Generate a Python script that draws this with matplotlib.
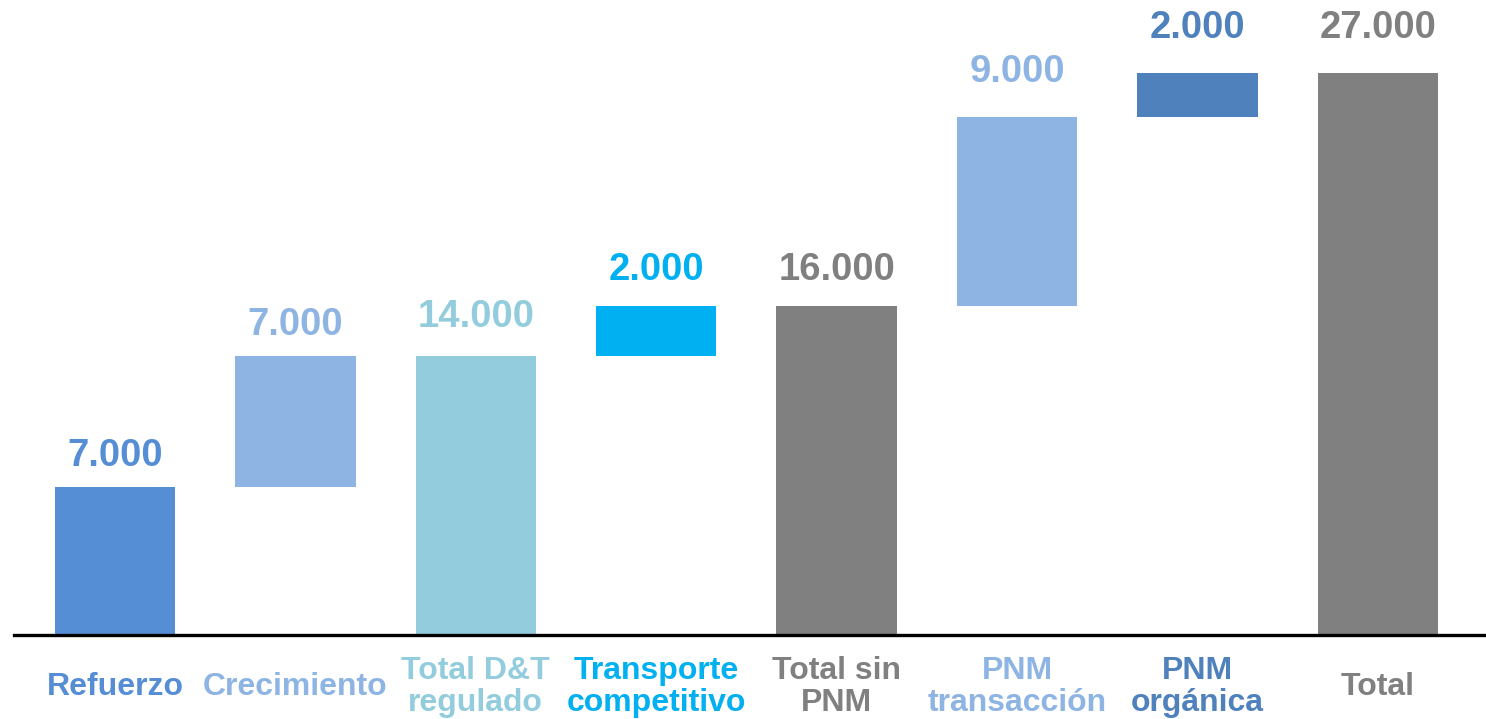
import numpy as np
import matplotlib.pyplot as plt

# --- Daten ------------------------------------------------------------------
categories = ["Refuerzo", "Crecimiento", "Total D&T\nregulado", "Transporte\ncompetitivo",
              "Total sin\nPNM", "PNM\ntransacción", "PNM\norgánica", "Total"]
values = [7100, 6300, 13400, 2400, 15800, 9100, 2100, 27000]
is_total = [False, False, True, False, True, False, False, True]
value_labels = ["7.000", "7.000", "14.000", "2.000", "16.000", "9.000", "2.000", "27.000"]

colors = ["#558ED5", "#8EB4E3", "#93CDDD", "#00B0F0",
          "#808080", "#8EB4E3", "#4F81BD", "#808080"]
label_pad = [31, 31, 39, 36, 36, 45, 45, 45]  # Abstand Wertlabel -> Balken (px)

# --- Wasserfall-Basis berechnen ---------------------------------------------
bottoms = []
running = 0
for v, tot in zip(values, is_total):
    if tot:
        bottoms.append(0)
        running = v
    else:
        bottoms.append(running)
        running += v

x = np.arange(len(categories))

# -- Plot ----------------------------------------------------------------------
plt.rcParams["font.family"] = ["Liberation Sans", "DejaVu Sans"]
fig = plt.figure(figsize=(14.86, 7.19), dpi=100)
ax = fig.add_axes([14 / 1486, 84 / 719, 1 - 14 / 1486, 1 - 84 / 719])

ax.bar(x, values, bottom=bottoms, width=0.667, color=colors, linewidth=0)

for xi, v, b, lab, c, pad in zip(x, values, bottoms, value_labels, colors, label_pad):
    ax.annotate(lab, (xi, b + v), xytext=(0, pad), textcoords="offset pixels",
                ha="center", va="center", fontsize=27.5, fontweight="bold", color=c)

for xi, cat, c in zip(x, categories, colors):
    ax.annotate(cat, (xi, 0), xytext=(0, -52), textcoords="offset pixels",
                ha="center", va="center", fontsize=23, fontweight="bold",
                color=c, linespacing=1.05, annotation_clip=False)

# Nulllinie (nicht am Achsenrand abschneiden)
ax.axhline(0, color="black", lw=2.4, clip_on=False)

# Achsen & Layout
ax.set_xlim(-0.56, 7.6)
ax.set_ylim(0, 30500)
ax.axis("off")

fig.savefig("out.png", dpi=100)
plt.close(fig)
